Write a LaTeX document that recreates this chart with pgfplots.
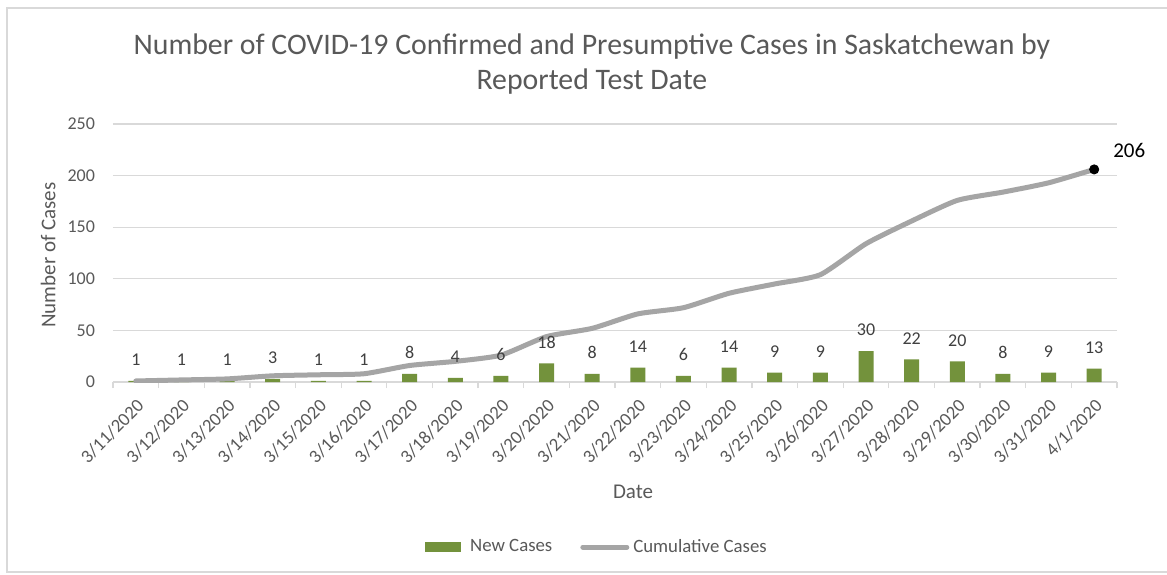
\documentclass[border=0pt]{standalone}
\usepackage{pgfplots}
\pgfplotsset{compat=1.18}
\usepackage{fontspec}
\setmainfont{Carlito}
\definecolor{barg}{RGB}{115,146,60}
\definecolor{lineg}{RGB}{165,165,165}
\definecolor{txt}{RGB}{89,89,89}
\definecolor{labc}{RGB}{64,64,64}
\definecolor{gridc}{RGB}{217,217,217}
\begin{document}
\begin{tikzpicture}
\useasboundingbox (-56.5pt,-96pt) rectangle (527pt,191pt);
\fill[white] (-56.5pt,-96pt) rectangle (527pt,191pt);
\draw[gridc, line width=0.6pt] (530pt,187pt) -- (-53pt,187pt) -- (-53pt,-95pt) -- (530pt,-95pt);
\begin{axis}[
  at={(0pt,0pt)}, anchor=south west,
  scale only axis, width=502pt, height=129pt,
  xmin=-0.5, xmax=21.5, ymin=0, ymax=250,
  ytick={0,50,100,150,200,250},
  /pgf/number format/assume math mode=true,
  axis line style={draw=none},
  ymajorgrids, major grid style={gridc, line width=0.6pt},
  y tick style={draw=none},
  yticklabel style={font=\fontsize{9}{10}\selectfont, text=txt, xshift=-2.5pt},
  xtick={-0.5,0.5,1.5,2.5,3.5,4.5,5.5,6.5,7.5,8.5,9.5,10.5,11.5,12.5,13.5,14.5,15.5,16.5,17.5,18.5,19.5,20.5,21.5},
  xticklabels={},
  xtick pos=bottom, tick align=outside,
  x tick style={gridc, line width=0.6pt},
  major tick length=3pt,
  extra x ticks={0,1,2,3,4,5,6,7,8,9,10,11,12,13,14,15,16,17,18,19,20,21},
  extra x tick labels={3/11/2020,3/12/2020,3/13/2020,3/14/2020,3/15/2020,3/16/2020,3/17/2020,3/18/2020,3/19/2020,3/20/2020,3/21/2020,3/22/2020,3/23/2020,3/24/2020,3/25/2020,3/26/2020,3/27/2020,3/28/2020,3/29/2020,3/30/2020,3/31/2020,4/1/2020},
  extra x tick style={major tick length=0pt, grid=none,
    xticklabel style={rotate=45, anchor=east, font=\fontsize{9.3}{10}\selectfont, text=txt, xshift=-2.2pt, yshift=-9.1pt}},
  ylabel={Number of Cases},
  ylabel style={at={(axis description cs:-0.0647,0.492)}, anchor=center, rotate=0, font=\fontsize{10.5}{12}\selectfont, text=txt},
  xlabel={Date},
  xlabel style={at={(axis description cs:0.518,-0.426)}, anchor=center, font=\fontsize{10.5}{12}\selectfont, text=txt},
  title={Number of COVID-19 Confirmed and Presumptive Cases in Saskatchewan by\\Reported Test Date},
  title style={at={(axis description cs:0.477,1.186)}, anchor=center, align=center, font=\fontsize{14.9}{17.5}\selectfont, text=txt},
  legend style={at={(axis description cs:0.483,-0.64)}, anchor=center, draw=none, fill=none,
    legend columns=2, font=\fontsize{9.4}{11}\selectfont, text=txt,
    /tikz/every even column/.append style={column sep=12pt}},
]
\addplot[ybar, bar width=7.5pt, fill=barg, draw=none,
  nodes near coords,
  every node near coord/.append style={font=\fontsize{9}{10}\selectfont, text=labc, yshift=4pt},
  legend image code/.code={\fill[barg] (0pt,-2.5pt) rectangle (18pt,2.5pt);}]
  coordinates {(0,1)(1,1)(2,1)(3,3)(4,1)(5,1)(6,8)(7,4)(8,6)(9,18)(10,8)(11,14)(12,6)(13,14)(14,9)(15,9)(16,30)(17,22)(18,20)(19,8)(20,9)(21,13)};
\addlegendentry{\hspace{2.5pt}New Cases}
\addplot[lineg, line width=2.5pt, line cap=round, line join=round, smooth, tension=0.35, mark=none,
  legend image code/.code={\draw[lineg, line width=2.5pt] (0pt,0pt) -- (22pt,0pt);}]
  coordinates {(0,1)(1,2)(2,3)(3,6)(4,7)(5,8)(6,16)(7,20)(8,26)(9,44)(10,52)(11,66)(12,72)(13,86)(14,95)(15,104)(16,134)(17,156)(18,176)(19,184)(20,193)(21,206)};
\addlegendentry{Cumulative Cases}
\addplot[forget plot, only marks, mark=*, mark size=2.3pt, black,
  nodes near coords,
  every node near coord/.append style={font=\fontsize{10.5}{12}\selectfont, text=black, anchor=south west, xshift=6pt, yshift=2.5pt}]
  coordinates {(21,206)};
\end{axis}
\end{tikzpicture}
\end{document}
